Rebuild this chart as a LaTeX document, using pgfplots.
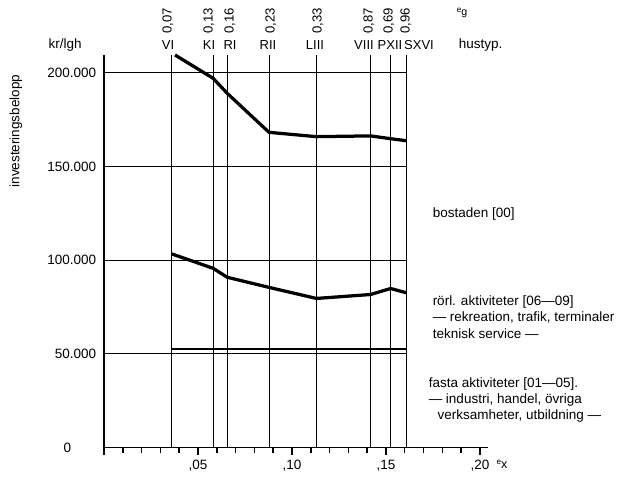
\documentclass[border=0pt]{standalone}
\usepackage{pgfplots}
\pgfplotsset{compat=1.18}
\usepackage{fontspec}
\setmainfont{Liberation Sans}

\begin{document}
\fontsize{10.8}{13}\selectfont
\begin{tikzpicture}
% page = 623 x 480 px of the reference, 1 px = 0.8pt, axis origin at px (104,447.5)
\useasboundingbox (-83.2pt,-25.6pt) rectangle (415.2pt,358pt);
\begin{axis}[
  at={(0,0)}, anchor=south west,
  scale only axis, width=307.2pt, height=314pt,
  xmin=0, xmax=0.2043, ymin=0, ymax=209600,
  axis lines=left, axis line style={-, line width=1.3pt},
  clip=false,
  xtick={0,0.05,0.1,0.15,0.2},
  xticklabels={{},{,05},{,10},{,15},{,20}},
  minor xtick={0.01,0.02,0.03,0.04,0.06,0.07,0.08,0.09,0.11,0.12,0.13,0.14,0.16,0.17,0.18,0.19},
  tick align=outside, major tick length=6pt, minor tick length=4pt,
  x tick style={black, line width=1.2pt},
  every minor tick/.append style={black, line width=1.1pt},
  ytick={0,50000,100000,150000,200000},
  yticklabels={0\hspace*{20pt},50.000,100.000,150.000,200.000},
  y tick style={draw=none},
  yticklabel style={xshift=3.5pt},
  scaled y ticks=false,
  /pgf/number format/assume math mode=true,
  tick label style={font=\fontsize{10.8}{13}\selectfont},
]
% grid lines, only as far as the last house type
\addplot[black, line width=0.8pt, unbounded coords=jump] coordinates {
  (0,50000) (0.161,50000) (0.161,nan)
  (0,100000) (0.161,100000) (0.161,nan)
  (0,150000) (0.161,150000) (0.161,nan)
  (0,200000) (0.161,200000)
};
% vertical lines at each hustyp
\addplot[black, line width=0.8pt, unbounded coords=jump] coordinates {
  (0.036,0) (0.036,209600) (0.036,nan)
  (0.058,0) (0.058,209600) (0.058,nan)
  (0.0656,0) (0.0656,209600) (0.0656,nan)
  (0.0878,0) (0.0878,209600) (0.0878,nan)
  (0.113,0) (0.113,209600) (0.113,nan)
  (0.1418,0) (0.1418,209600) (0.1418,nan)
  (0.1525,0) (0.1525,209600) (0.1525,nan)
  (0.161,0) (0.161,209600)
};
% bostaden [00]
\addplot[black, line width=2.6pt] coordinates {
  (0.0378,209600) (0.058,197200) (0.0656,189100) (0.0878,168300)
  (0.113,166000) (0.1418,166400) (0.1525,164900) (0.161,163800)
};
% rorl. aktiviteter [06-09]
\addplot[black, line width=2.6pt] coordinates {
  (0.036,103400) (0.058,95700) (0.0656,90900) (0.0878,85500)
  (0.113,79600) (0.1418,81700) (0.1525,84900) (0.161,82600)
};
% fasta aktiviteter [01-05]
\addplot[black, line width=2.2pt] coordinates {
  (0.036,52600) (0.161,52600)
};
\end{axis}

\begin{scope}[shift={(-83.2pt,358pt)}, x=0.8pt, y=-0.8pt]
  \node[anchor=west] at (44,45) {kr/lgh};
  \node[rotate=90] at (16,131) {investeringsbelopp};
  % e_g values
  \begin{scope}[every node/.style={rotate=90, anchor=west, inner sep=1pt, font=\fontsize{10.5}{11}\selectfont}]
    \node at (168,35) {0,07};
    \node at (209,35) {0,13};
    \node at (230,35) {0,16};
    \node at (271,35) {0,23};
    \node at (318,35) {0,33};
    \node at (369,35) {0,87};
    \node at (389,35) {0,69};
    \node at (406,35) {0,96};
  \end{scope}
  % hustyp
  \begin{scope}[every node/.style={font=\fontsize{10.4}{12}\selectfont}]
    \node at (168,45) {VI};
    \node at (209,45) {KI};
    \node at (230,45) {RI};
    \node at (268,45) {RII};
    \node at (315,45) {LIII};
    \node at (364,45) {VIII};
    \node at (390,45) {PXII};
    \node at (419,45) {SXVI};
  \end{scope}
  \node at (462,13) {\raisebox{2pt}{\fontsize{6.5}{7}\selectfont e}{\fontsize{8.5}{9}\selectfont g}};
  \node[anchor=west] at (454,45) {hustyp.};
  \node at (502,464) {\raisebox{3pt}{\fontsize{6.5}{7}\selectfont e}{\fontsize{10}{10}\selectfont x}};
  % series names
  \node[anchor=west] at (428,214) {bostaden [00]};
  \node[anchor=west, align=left] at (428,317) {rörl. aktiviteter [06—09]\\— rekreation, trafik, terminaler\\teknisk service —};
  \node[anchor=west, align=left] at (424,400) {fasta aktiviteter [01—05].\\— industri, handel, övriga\\\hspace*{7pt}verksamheter, utbildning —};
\end{scope}
\end{tikzpicture}
\end{document}
